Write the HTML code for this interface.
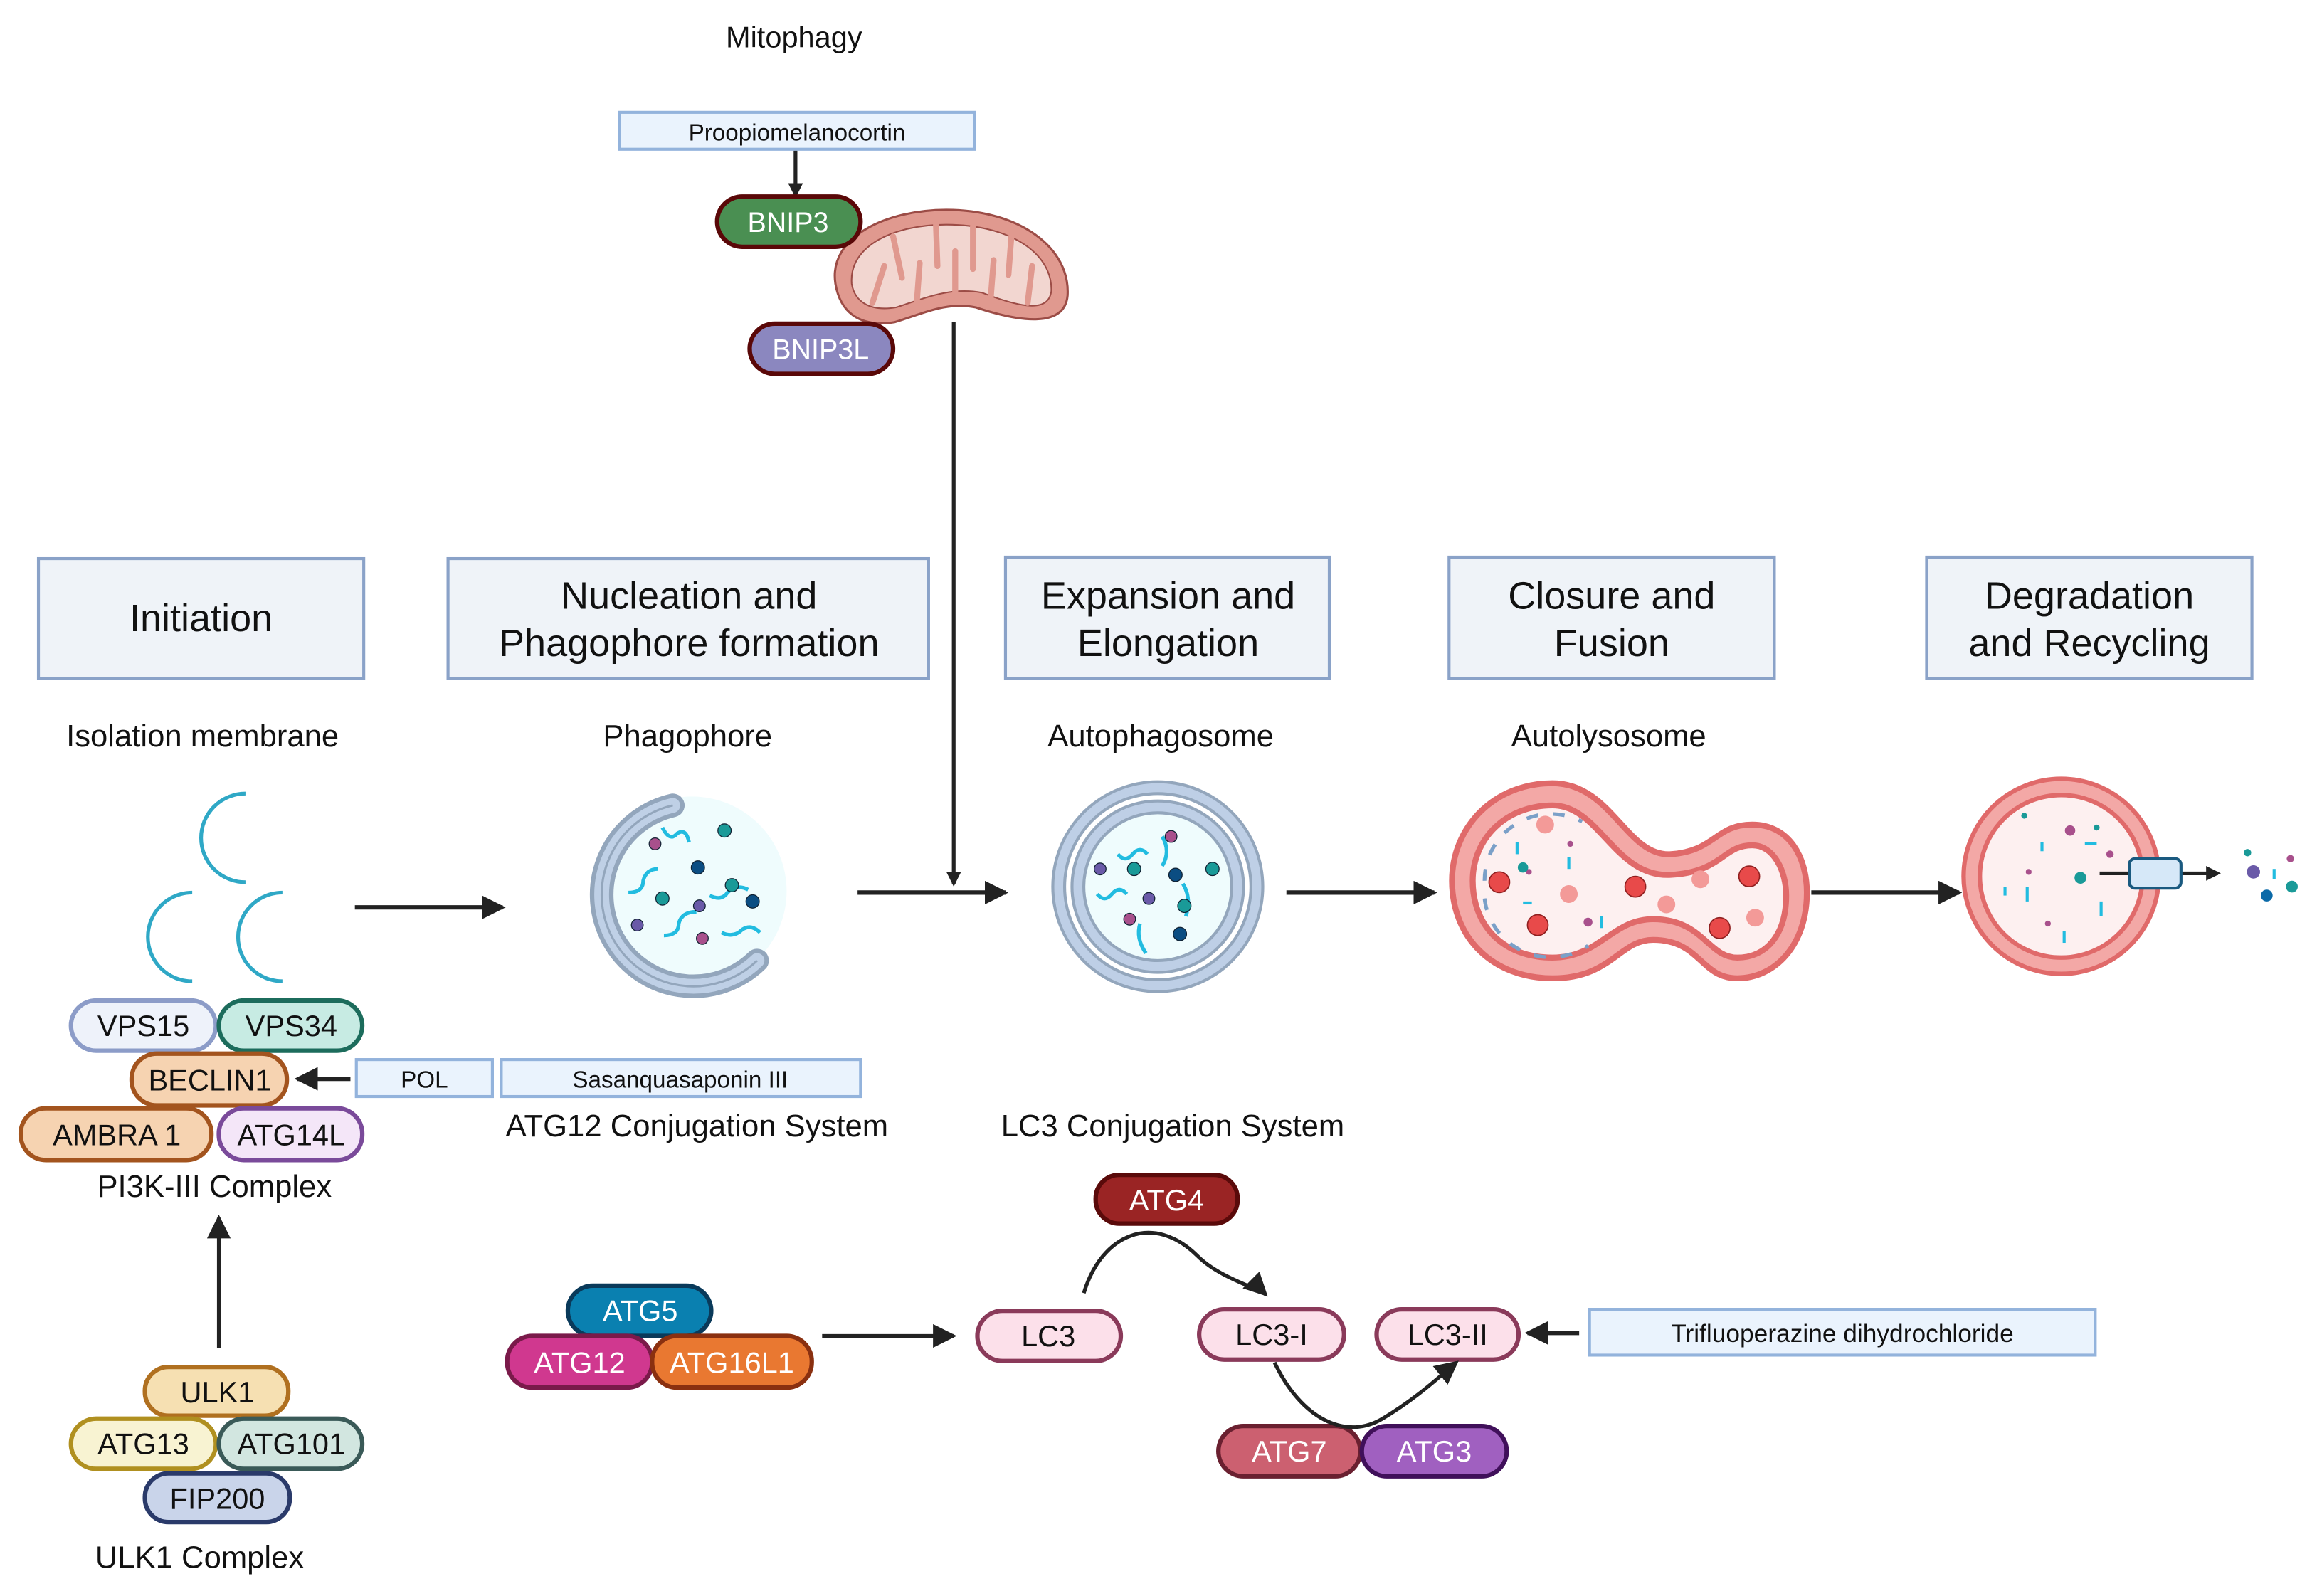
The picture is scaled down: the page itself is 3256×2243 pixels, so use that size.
<!DOCTYPE html>
<html><head><meta charset="utf-8"><style>
html,body{margin:0;padding:0;background:#fff;}
svg{display:block;}
text{font-family:"Liberation Sans",sans-serif;}
</style></head><body>
<svg width="3256" height="2243" viewBox="0 0 1567 1080" preserveAspectRatio="none" xmlns="http://www.w3.org/2000/svg">
<defs>
<marker id="ah" markerWidth="10" markerHeight="10" refX="8" refY="5" orient="auto" markerUnits="userSpaceOnUse" viewBox="0 0 10 10">
<path d="M0,0 L10,5 L0,10 z" fill="#222"/></marker>
<marker id="ahb" markerWidth="16" markerHeight="16" refX="14" refY="8" orient="auto" markerUnits="userSpaceOnUse" viewBox="0 0 16 16">
<path d="M0,0 L16,8 L0,16 z" fill="#222"/></marker>
</defs>

<text x="537" y="32" font-size="20" text-anchor="middle" fill="#111">Mitophagy</text>
<rect x="419" y="76" width="240" height="25" fill="#eaf3fd" stroke="#93b3dc" stroke-width="2"/>
<text x="539" y="95" font-size="16" text-anchor="middle" fill="#111">Proopiomelanocortin</text>
<line x1="538" y1="102" x2="538" y2="132" stroke="#222" stroke-width="2.5" marker-end="url(#ah)"/>

<path d="M565,192 C560,160 600,142 640,142 C690,142 724,168 722,200 C720,222 690,218 660,208 C640,204 625,212 605,218 C580,222 568,210 565,192 Z" fill="#e0998f" stroke="#9c4c46" stroke-width="1.5"/>
<path d="M576,192 C574,166 605,152 640,152 C684,152 712,172 711,197 C709,212 690,208 664,198 C642,194 625,202 606,208 C588,211 578,204 576,192 Z" fill="#f2d6d0" stroke="#9c4c46" stroke-width="1"/>
<g stroke="#e0998f" stroke-width="4" stroke-linecap="round">
<line x1="590" y1="205" x2="598" y2="180"/><line x1="604" y1="160" x2="610" y2="188"/>
<line x1="620" y1="205" x2="622" y2="178"/><line x1="633" y1="152" x2="634" y2="180"/>
<line x1="646" y1="200" x2="646" y2="170"/><line x1="658" y1="153" x2="658" y2="182"/>
<line x1="670" y1="202" x2="672" y2="176"/><line x1="684" y1="160" x2="682" y2="186"/>
<line x1="695" y1="205" x2="698" y2="180"/>
</g>

<rect x="485" y="133" width="97" height="34" rx="17" fill="#4a8f52" stroke="#5a0808" stroke-width="3"/>
<text x="533" y="157" font-size="19" text-anchor="middle" fill="#fff">BNIP3</text>
<rect x="507" y="219" width="97" height="34" rx="17" fill="#8b87bf" stroke="#5a0808" stroke-width="3"/>
<text x="555" y="243" font-size="19" text-anchor="middle" fill="#fff">BNIP3L</text>

<line x1="645" y1="218" x2="645" y2="598" stroke="#222" stroke-width="2.5" marker-end="url(#ah)"/>

<g fill="#eff3f8" stroke="#8aa2c8" stroke-width="2">
<rect x="26" y="378" width="220" height="81"/>
<rect x="303" y="378" width="325" height="81"/>
<rect x="680" y="377" width="219" height="82"/>
<rect x="980" y="377" width="220" height="82"/>
<rect x="1303" y="377" width="220" height="82"/>
</g>
<g font-size="26" text-anchor="middle" fill="#111">
<text x="136" y="427">Initiation</text>
<text x="466" y="412">Nucleation and</text><text x="466" y="444">Phagophore formation</text>
<text x="790" y="412">Expansion and</text><text x="790" y="444">Elongation</text>
<text x="1090" y="412">Closure and</text><text x="1090" y="444">Fusion</text>
<text x="1413" y="412">Degradation</text><text x="1413" y="444">and Recycling</text>
</g>
<g font-size="21" text-anchor="middle" fill="#111">
<text x="137" y="505">Isolation membrane</text>
<text x="465" y="505">Phagophore</text>
<text x="785" y="505">Autophagosome</text>
<text x="1088" y="505">Autolysosome</text>
</g>

<g fill="none" stroke="#2fa8c6" stroke-width="2.5">
<path d="M166,537 A30,30 0 1 0 166,597"/>
<path d="M130,604 A30,30 0 1 0 130,664"/>
<path d="M191,604 A30,30 0 1 0 191,664"/>
</g>

<g stroke="#222" stroke-width="3" marker-end="url(#ahb)">
<line x1="240" y1="614" x2="340" y2="614"/>
<line x1="580" y1="604" x2="680" y2="604"/>
<line x1="870" y1="604" x2="970" y2="604"/>
<line x1="1225" y1="604" x2="1325" y2="604"/>
</g>

<circle cx="468" cy="603" r="64" fill="#effcfd"/>
<path d="M455,545 A62,62 0 1 0 512,650" fill="none" stroke="#93a6bc" stroke-width="16" stroke-linecap="round"/>
<path d="M455,545 A62,62 0 1 0 512,650" fill="none" stroke="#bfd0e6" stroke-width="10" stroke-linecap="round"/>
<path d="M455,545 A62,62 0 1 0 512,650" fill="none" stroke="#93a6bc" stroke-width="1.5"/>
<g fill="none" stroke="#22bce0" stroke-width="2.5">
<path d="M448,560 q5,10 10,4 q6,-4 8,6"/><path d="M425,604 q10,0 10,-8 q2,-8 10,-8"/>
<path d="M480,606 q8,4 12,-2 q6,-6 14,-2"/><path d="M449,633 q10,0 10,-8 q2,-8 12,-8"/>
<path d="M488,631 q8,4 14,-2 q6,-4 12,2"/>
</g>
<g stroke="#123" stroke-width="0.6">
<circle cx="490" cy="562" r="4.5" fill="#1a9a98"/><circle cx="472" cy="587" r="4.5" fill="#0b4d82"/>
<circle cx="495" cy="599" r="4.5" fill="#1a9a98"/><circle cx="448" cy="608" r="4.5" fill="#1a9a98"/>
<circle cx="509" cy="610" r="4.5" fill="#0b4d82"/><circle cx="443" cy="571" r="4" fill="#a8508c"/>
<circle cx="473" cy="613" r="4" fill="#6a5aa8"/><circle cx="431" cy="626" r="4" fill="#6a5aa8"/>
<circle cx="475" cy="635" r="4" fill="#a8508c"/>
</g>

<circle cx="783" cy="600" r="71" fill="#becfe6" stroke="#93a6bc" stroke-width="2"/>
<circle cx="783" cy="600" r="63" fill="#fff" stroke="#93a6bc" stroke-width="2"/>
<circle cx="783" cy="600" r="58" fill="#becfe6" stroke="#93a6bc" stroke-width="2"/>
<circle cx="783" cy="600" r="50" fill="#effcfd" stroke="#93a6bc" stroke-width="2"/>
<g fill="none" stroke="#22bce0" stroke-width="2.5">
<path d="M756,578 q5,6 10,0 q5,-6 10,0"/><path d="M786,566 q6,10 0,20"/>
<path d="M742,605 q5,6 10,0 q5,-6 10,0"/><path d="M800,598 q6,10 2,22"/><path d="M771,625 q-3,10 4,20"/>
</g>
<g stroke="#123" stroke-width="0.6">
<circle cx="792" cy="566" r="4" fill="#a8508c"/><circle cx="744" cy="588" r="4" fill="#6a5aa8"/>
<circle cx="767" cy="588" r="4.5" fill="#1a9a98"/><circle cx="795" cy="592" r="4.5" fill="#0b4d82"/>
<circle cx="820" cy="588" r="4.5" fill="#1a9a98"/><circle cx="777" cy="608" r="4" fill="#6a5aa8"/>
<circle cx="801" cy="613" r="4.5" fill="#1a9a98"/><circle cx="764" cy="622" r="4" fill="#a8508c"/>
<circle cx="798" cy="632" r="4.5" fill="#0b4d82"/>
</g>

<path d="M1050,530 C1090,530 1100,580 1130,578 C1160,576 1160,558 1185,558 C1210,558 1222,580 1222,604 C1222,640 1200,662 1175,662 C1150,662 1150,636 1118,636 C1095,636 1090,662 1050,662 C1010,662 982,635 982,596 C982,560 1010,530 1050,530 Z" fill="#f3a8a6" stroke="#e06a6a" stroke-width="4"/>
<path d="M1050,545 C1082,545 1092,594 1130,592 C1165,590 1165,572 1185,572 C1200,572 1208,590 1208,606 C1208,632 1195,648 1175,648 C1155,648 1152,622 1118,622 C1090,622 1082,648 1050,648 C1015,648 996,625 996,596 C996,568 1018,545 1050,545 Z" fill="#fdf0f0" stroke="#e06a6a" stroke-width="4"/>
<g fill="#e84a4a" stroke="#902020" stroke-width="0.8">
<circle cx="1014" cy="597" r="7"/><circle cx="1040" cy="626" r="7"/><circle cx="1106" cy="600" r="7"/>
<circle cx="1183" cy="593" r="7"/><circle cx="1163" cy="628" r="7"/>
</g>
<g fill="#f39a98">
<circle cx="1045" cy="558" r="6"/><circle cx="1061" cy="605" r="6"/><circle cx="1127" cy="612" r="6"/>
<circle cx="1150" cy="595" r="6"/><circle cx="1187" cy="621" r="6"/>
</g>
<g fill="none" stroke="#7ba0c8" stroke-width="2.5" stroke-dasharray="8,10">
<path d="M1004,596 A45,45 0 0 1 1070,556"/><path d="M1004,608 A45,45 0 0 0 1074,640"/>
</g>
<g fill="#22bce0"><rect x="1025" y="570" width="2" height="8"/><rect x="1060" y="580" width="2" height="8"/><rect x="1082" y="620" width="2" height="8"/><rect x="1030" y="610" width="6" height="2"/></g>
<g fill="#a8508c"><circle cx="1074" cy="624" r="3"/><circle cx="1034" cy="590" r="2"/><circle cx="1062" cy="571" r="2"/></g>
<circle cx="1030" cy="587" r="3.5" fill="#1a9a98"/>

<circle cx="1394" cy="593" r="66" fill="#f3a8a6" stroke="#e06a6a" stroke-width="3"/>
<circle cx="1394" cy="593" r="55" fill="#fdf0f0" stroke="#e06a6a" stroke-width="3"/>
<g fill="#22bce0"><rect x="1370" y="600" width="2" height="10"/><rect x="1410" y="570" width="8" height="2"/><rect x="1420" y="610" width="2" height="10"/><rect x="1380" y="570" width="2" height="6"/><rect x="1395" y="630" width="2" height="8"/><rect x="1355" y="600" width="2" height="6"/></g>
<g fill="#a8508c"><circle cx="1400" cy="562" r="3.5"/><circle cx="1372" cy="590" r="2"/><circle cx="1385" cy="625" r="2"/><circle cx="1427" cy="578" r="2.5"/></g>
<circle cx="1407" cy="594" r="4" fill="#1a9a98"/><circle cx="1418" cy="560" r="2" fill="#1a9a98"/><circle cx="1369" cy="552" r="2" fill="#1a9a98"/>
<line x1="1420" y1="591" x2="1500" y2="591" stroke="#222" stroke-width="2.5" marker-end="url(#ah)"/>
<rect x="1440" y="581" width="35" height="20" rx="4" fill="#d6e8f8" stroke="#1a5a80" stroke-width="2"/>
<circle cx="1524" cy="590" r="4.5" fill="#6a5aa8"/><circle cx="1520" cy="577" r="2.5" fill="#1a9a98"/>
<circle cx="1549" cy="581" r="2.5" fill="#a8508c"/><circle cx="1550" cy="600" r="4" fill="#1a9a98"/>
<circle cx="1533" cy="606" r="4" fill="#0b6aa8"/><rect x="1537" y="588" width="2" height="7" fill="#22bce0"/>

<g stroke-width="3" font-size="20" text-anchor="middle">
<rect x="48" y="677" width="98" height="34" rx="17" fill="#eef2fa" stroke="#8c9cc8"/>
<text x="97" y="701" fill="#111" stroke="none">VPS15</text>
<rect x="148" y="677" width="97" height="34" rx="17" fill="#c7ebe3" stroke="#1c6c5c"/>
<text x="197" y="701" fill="#111" stroke="none">VPS34</text>
<rect x="89" y="713" width="105" height="35" rx="17" fill="#f6d3b1" stroke="#a3541e"/>
<text x="142" y="738" fill="#111" stroke="none">BECLIN1</text>
<rect x="14" y="750" width="129" height="35" rx="17" fill="#f6d3b1" stroke="#a3541e"/>
<text x="79" y="775" fill="#111" stroke="none">AMBRA 1</text>
<rect x="148" y="750" width="97" height="35" rx="17" fill="#f4e6f8" stroke="#7a4a9a"/>
<text x="197" y="775" fill="#111" stroke="none">ATG14L</text>

<rect x="98" y="925" width="97" height="33" rx="16" fill="#f6e0b2" stroke="#b07020"/>
<text x="147" y="949" fill="#111" stroke="none">ULK1</text>
<rect x="48" y="960" width="98" height="34" rx="17" fill="#f8f3d2" stroke="#b09020"/>
<text x="97" y="984" fill="#111" stroke="none">ATG13</text>
<rect x="148" y="960" width="97" height="34" rx="17" fill="#d2e6e0" stroke="#3a5a58"/>
<text x="197" y="984" fill="#111" stroke="none">ATG101</text>
<rect x="98" y="997" width="98" height="33" rx="16" fill="#c9d4ea" stroke="#2a3a6a"/>
<text x="147" y="1021" fill="#111" stroke="none">FIP200</text>

<rect x="384" y="870" width="97" height="34" rx="17" fill="#0a80b0" stroke="#0a3a5a"/>
<text x="433" y="894" fill="#fff" stroke="none">ATG5</text>
<rect x="343" y="904" width="98" height="35" rx="17" fill="#d0388f" stroke="#7a1a4a"/>
<text x="392" y="929" fill="#fff" stroke="none">ATG12</text>
<rect x="441" y="904" width="108" height="35" rx="17" fill="#e97831" stroke="#8a3010"/>
<text x="495" y="929" fill="#fff" stroke="none">ATG16L1</text>

<rect x="661" y="887" width="97" height="34" rx="17" fill="#fce0ea" stroke="#8a3a5a"/>
<text x="709" y="911" fill="#111" stroke="none">LC3</text>
<rect x="811" y="886" width="98" height="34" rx="17" fill="#fce0ea" stroke="#8a3a5a"/>
<text x="860" y="910" fill="#111" stroke="none">LC3-I</text>
<rect x="931" y="886" width="96" height="34" rx="17" fill="#fce0ea" stroke="#8a3a5a"/>
<text x="979" y="910" fill="#111" stroke="none">LC3-II</text>

<rect x="741" y="795" width="96" height="33" rx="16" fill="#9a2424" stroke="#5a0a0a"/>
<text x="789" y="819" fill="#fff" stroke="none">ATG4</text>
<rect x="824" y="965" width="96" height="34" rx="17" fill="#cc6070" stroke="#6a2030"/>
<text x="872" y="989" fill="#fff" stroke="none">ATG7</text>
<rect x="921" y="965" width="98" height="34" rx="17" fill="#a060c0" stroke="#40105a"/>
<text x="970" y="989" fill="#fff" stroke="none">ATG3</text>
</g>

<rect x="241" y="717" width="92" height="25" fill="#eaf3fd" stroke="#93b3dc" stroke-width="2"/>
<text x="287" y="736" font-size="16" text-anchor="middle" fill="#111">POL</text>
<rect x="339" y="717" width="243" height="25" fill="#eaf3fd" stroke="#93b3dc" stroke-width="2"/>
<text x="460" y="736" font-size="16" text-anchor="middle" fill="#111">Sasanquasaponin III</text>
<line x1="237" y1="730" x2="201" y2="730" stroke="#222" stroke-width="3" marker-end="url(#ahb)"/>

<text x="342" y="769" font-size="21" fill="#111">ATG12 Conjugation System</text>
<text x="677" y="769" font-size="21" fill="#111">LC3 Conjugation System</text>
<text x="145" y="810" font-size="21" text-anchor="middle" fill="#111">PI3K-III Complex</text>
<text x="135" y="1061" font-size="21" text-anchor="middle" fill="#111">ULK1 Complex</text>

<line x1="148" y1="912" x2="148" y2="824" stroke="#222" stroke-width="2.5" marker-end="url(#ahb)"/>
<line x1="556" y1="904" x2="645" y2="904" stroke="#222" stroke-width="2.5" marker-end="url(#ahb)"/>

<rect x="1075" y="886" width="342" height="31" fill="#eaf3fd" stroke="#93b3dc" stroke-width="2"/>
<text x="1246" y="908" font-size="17" text-anchor="middle" fill="#111">Trifluoperazine dihydrochloride</text>
<line x1="1068" y1="902" x2="1033" y2="902" stroke="#222" stroke-width="3" marker-end="url(#ahb)"/>

<path d="M733,875 C745,835 780,820 810,850 C825,865 852,872 856,876" fill="none" stroke="#222" stroke-width="2.5" marker-end="url(#ahb)"/>
<path d="M862,922 C880,960 910,975 935,960 C960,945 975,930 985,922" fill="none" stroke="#222" stroke-width="2.5" marker-end="url(#ahb)"/>
</svg>
</body></html>
